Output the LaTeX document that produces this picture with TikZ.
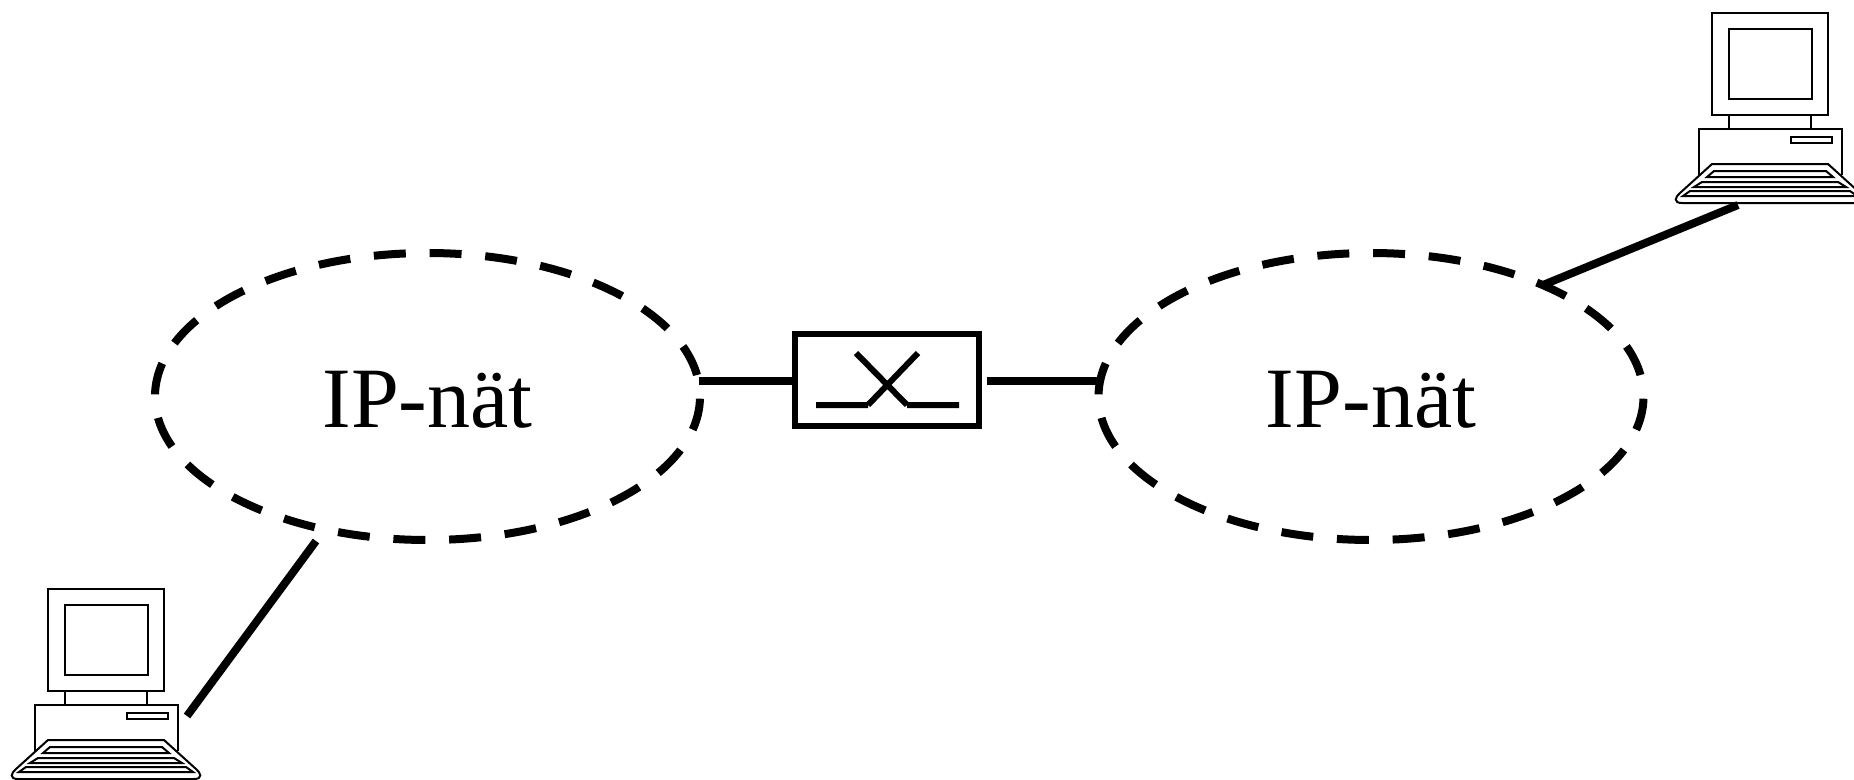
\documentclass[tikz,border=0pt]{standalone}
\usepackage{fontspec}
\setmainfont{Liberation Serif}
\usetikzlibrary{shapes.geometric}

\tikzset{
	net/.style={ellipse,draw,line width=8pt,dash pattern=on 32pt off 23.77pt,dash phase=34pt,minimum width=545pt,minimum height=287pt,inner sep=0pt,outer sep=0pt,text height=61pt,text depth=0pt,font=\fontsize{86}{86}\selectfont},
	switchbox/.style={rectangle,draw,line width=6pt,minimum width=184pt,minimum height=92pt,inner sep=0pt,outer sep=0pt},
	link/.style={line width=8pt},
	contact/.style={line width=6pt},
	computer/.pic={
		\draw (0,0) rectangle (116,102);
		\draw (17,16) rectangle (100,86);
		\draw (17,102) -- (17,116)
		      (99,102) -- (99,116);
		\draw (-13,162) -- (-13,116) -- (130,116) -- (130,162);
		\draw (79,124) rectangle (120,130);
		\draw (0,151) -- (116,151) -- (148,180) .. controls (153,184) and (155,190) .. (146,190) -- (-30,190) .. controls (-39,190) and (-37,184) .. (-32,180) -- cycle;
		\foreach \ya/\yb/\wa/\wb in {158/164/56/63,169/174/68/76,178/183/80/87}
			\draw (58-\wa,\ya) -- (58+\wa,\ya) -- (58+\wb,\yb) -- (58-\wb,\yb) -- cycle;
	}
}

\begin{document}
\begin{tikzpicture}[x=1pt,y=-1pt,line width=2pt]
	\useasboundingbox (0,0) rectangle (1854,779);

	\node[net]       (netl)   at (427.5,396.5) {IP-nät};
	\node[net]       (netr)   at (1371,396.5)  {IP-nät};
	\node[switchbox] (switch) at (887,379.5)   {};

	\coordinate (netlout)  at (699,381);
	\coordinate (swlin)    at (792,381);
	\coordinate (swrout)   at (987,381);
	\coordinate (netrin)   at (1098,381);
	\coordinate (netlpc)   at (316,541);
	\coordinate (pclout)   at (187,716);
	\coordinate (pcrout)   at (1738,205);
	\coordinate (netrpc)   at (1543,285);

	\coordinate (swa) at (816,405);
	\coordinate (swb) at (868,405);
	\coordinate (swc) at (918,353);
	\coordinate (swd) at (856,353);
	\coordinate (swe) at (907,405);
	\coordinate (swf) at (959,405);

	\pic at (1712,13) {computer};
	\pic at (48,589)  {computer};

	\path[link] (netlout) edge (swlin)
	            (swrout)  edge (netrin)
	            (netlpc)  edge (pclout)
	            (pcrout)  edge (netrpc);

	\draw[contact] (swa) -- (swb)
	               (swb) -- (swc)
	               (swd) -- (swe)
	               (swe) -- (swf);
\end{tikzpicture}
\end{document}
